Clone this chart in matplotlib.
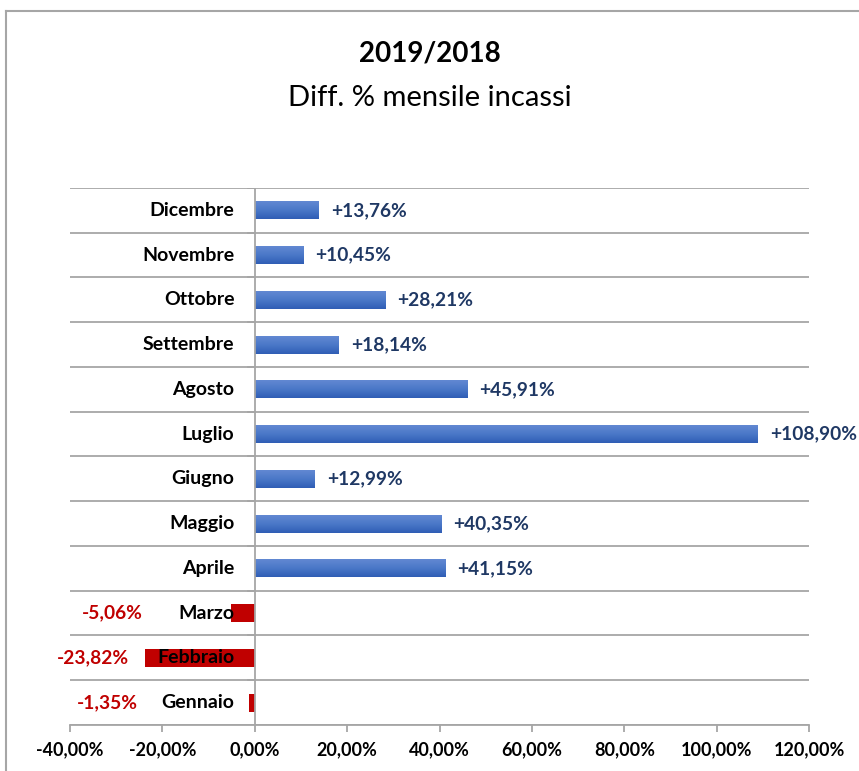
import numpy as np
import matplotlib.pyplot as plt
from matplotlib.lines import Line2D
from matplotlib.colors import LinearSegmentedColormap

plt.rcParams['font.family'] = ['Lato', 'DejaVu Sans']

# Data
months = ['Gennaio', 'Febbraio', 'Marzo', 'Aprile', 'Maggio', 'Giugno',
          'Luglio', 'Agosto', 'Settembre', 'Ottobre', 'Novembre', 'Dicembre']
diff_pct = [-1.35, -23.82, -5.06, 41.15, 40.35, 12.99,
            108.90, 45.91, 18.14, 28.21, 10.45, 13.76]
xticks = [-40, -20, 0, 20, 40, 60, 80, 100, 120]
# where negative value labels end (right edge, data units)
neg_label_right = [-25.3, -27.3, -24.2]

blue = '#4472C4'
red = '#C00000'
navy = '#1F3864'
grid_col = '#A6A6A6'

def fmt(v, sign=True):
    s = f"{v:+.2f}" if sign else f"{v:.2f}"
    return s.replace('.', ',') + '%'

fig = plt.figure(figsize=(8.59, 7.71), dpi=100)
ax = fig.add_axes([0.0815, 0.0597, 0.8603, 0.6965])

y = np.arange(len(months))
colors = [blue if v >= 0 else red for v in diff_pct]
bars = ax.barh(y, diff_pct, height=0.4, color=colors, zorder=2)

# vertical gradient on the positive bars
grad = np.linspace(0, 1, 64).reshape(-1, 1)
cmap = LinearSegmentedColormap.from_list('g', ['#2F5DB5', '#4A78C8', '#6288D2'])
for b, v in zip(bars, diff_pct):
    if v > 0:
        x0, y0 = b.get_x(), b.get_y()
        w, h = b.get_width(), b.get_height()
        ax.imshow(grad, extent=[x0, x0 + w, y0, y0 + h], origin='lower',
                  aspect='auto', cmap=cmap, zorder=2.5)

ax.set_xlim(-40, 120)
ax.set_ylim(-0.5, len(months) - 0.5)

# horizontal grid lines between categories
for b in np.arange(-0.5, len(months), 1.0):
    ax.axhline(b, color=grid_col, lw=1.3, zorder=1)
    ax.plot([-1.4, 0], [b, b], color=grid_col, lw=1.3, zorder=1)
ax.axvline(0, color=grid_col, lw=1.3, zorder=3)

for s in ax.spines.values():
    s.set_visible(False)
ax.spines['bottom'].set_visible(True)
ax.spines['bottom'].set_color(grid_col)
ax.spines['bottom'].set_linewidth(1.3)

ax.set_yticks([])
ax.set_xticks(xticks)
ax.set_xticklabels([fmt(t, sign=False) for t in xticks], fontsize=13,
                   fontweight='bold')
ax.tick_params(axis='x', length=5, color=grid_col, width=1.3, pad=7)

# category labels next to the zero line
for yi, m in zip(y, months):
    ax.text(-4.4, yi, m, ha='right', va='center', fontsize=14,
            fontweight='bold', color='black', zorder=4)

# value labels
neg_i = 0
for yi, v in zip(y, diff_pct):
    if v >= 0:
        ax.annotate(fmt(v), (v, yi), xytext=(9, 0), textcoords='offset points',
                    ha='left', va='center', fontsize=13.8, fontweight='bold',
                    color=navy, zorder=4)
    else:
        ax.text(neg_label_right[neg_i], yi, fmt(v), ha='right', va='center',
                fontsize=13.8, fontweight='bold', color=red, zorder=4)
        neg_i += 1

fig.text(0.5, 0.931, '2019/2018', ha='center', va='center', fontsize=20,
         fontweight='bold')
fig.text(0.5, 0.873, 'Diff. % mensile incassi', ha='center', va='center',
         fontsize=21)

# outer chart border
fig.add_artist(Line2D([6 / 859, 6 / 859], [0, 1 - 11 / 771],
                      transform=fig.transFigure, color=grid_col, lw=1.5))
fig.add_artist(Line2D([6 / 859, 1], [1 - 11 / 771, 1 - 11 / 771],
                      transform=fig.transFigure, color=grid_col, lw=1.5))

fig.savefig('out.png', dpi=100)
